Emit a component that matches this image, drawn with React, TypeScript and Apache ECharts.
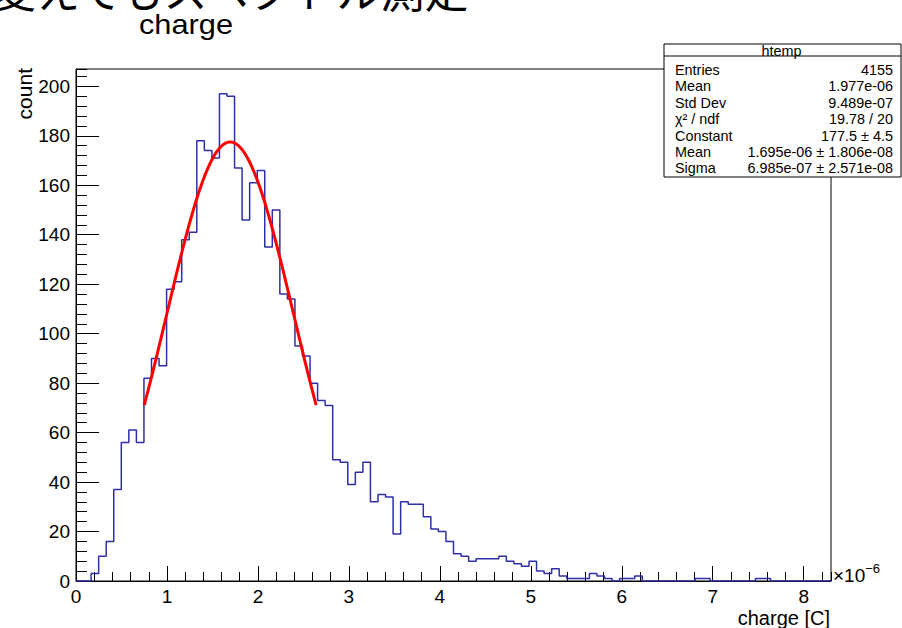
import React, { useEffect, useRef } from 'react';
import * as echarts from 'echarts';

// Histogram "htemp": 100 bins over [0, 8.3] ×1e-6 C
const X_MIN = 0;
const X_MAX = 8.3;
const Y_MAX = 207;
const N_BINS = 100;
const counts = [
  0, 0, 3, 10, 16, 37, 56, 61, 56, 82,
  90, 87, 118, 121, 138, 141, 178, 174, 171, 197,
  196, 167, 146, 161, 166, 135, 150, 116, 114, 95,
  91, 80, 73, 71, 49, 48, 39, 44, 48, 32,
  35, 34, 19, 32, 31, 31, 26, 21, 20, 16,
  11, 10, 8, 9, 9, 9, 10, 8, 7, 6,
  8, 4, 3, 5, 2, 1, 1, 1, 3, 2,
  1, 0, 1, 1, 2, 0, 0, 0, 0, 0,
  0, 0, 1, 1, 0, 0, 0, 0, 0, 0,
  1, 1, 0, 0, 0, 0, 0, 0, 0, 0,
];

// Gaussian fit parameters (from the stats box), x in units of 1e-6 C
const FIT_CONSTANT = 177.5;
const FIT_MEAN = 1.695;
const FIT_SIGMA = 0.6985;
const FIT_RANGE = [0.75, 2.64];
const FIT_POINTS = 100;

const xTickLabels = ['0', '1', '2', '3', '4', '5', '6', '7', '8'];

const statLabels = ['Entries', 'Mean', 'Std Dev', 'χ² / ndf', 'Constant', 'Mean', 'Sigma'];
const statValues = ['4155', '1.977e-06', '9.489e-07', '19.78 / 20', '177.5 ± 4.5', '1.695e-06 ± 1.806e-08', '6.985e-07 ± 2.571e-08'];

const FONT = '"Liberation Sans", Arial, Helvetica, sans-serif';

export default function App() {
  const ref = useRef<HTMLDivElement>(null);

  useEffect(() => {
    if (!ref.current) return;
    const chart = echarts.init(ref.current, null, { renderer: 'svg' });

    const binW = (X_MAX - X_MIN) / N_BINS;
    const histData: number[][] = counts.map((v, i) => [X_MIN + i * binW, v]);
    histData.push([X_MAX, counts[counts.length - 1]]);

    const fitData: number[][] = [];
    for (let k = 0; k <= FIT_POINTS; k++) {
      const x = FIT_RANGE[0] + ((FIT_RANGE[1] - FIT_RANGE[0]) * k) / FIT_POINTS;
      const z = (x - FIT_MEAN) / FIT_SIGMA;
      fitData.push([x, FIT_CONSTANT * Math.exp(-0.5 * z * z)]);
    }

    const boxX = 664, boxY = 44, boxW = 237, boxH = 133, headerH = 12;
    const rowY0 = 70, rowStep = 16.4;
    const statFont = `14.4px ${FONT}`;

    const statTexts: any[] = [];
    statLabels.forEach((l, i) => {
      statTexts.push({
        type: 'text', z: 101, x: 675, y: rowY0 + i * rowStep,
        style: { text: l, font: statFont, fill: '#000', align: 'left', verticalAlign: 'middle' },
      });
      statTexts.push({
        type: 'text', z: 101, x: 893, y: rowY0 + i * rowStep,
        style: { text: statValues[i], font: statFont, fill: '#000', align: 'right', verticalAlign: 'middle' },
      });
    });

    chart.setOption({
      animation: false,
      backgroundColor: '#fff',
      grid: {
        left: 76, right: 71, top: 69, bottom: 47,
        show: true, borderColor: '#000', borderWidth: 1, backgroundColor: 'transparent',
        containLabel: false,
      },
      xAxis: [
        {
          type: 'value', min: X_MIN, max: X_MAX, interval: 1, position: 'bottom',
          axisLine: { show: true, onZero: false, lineStyle: { color: '#000', width: 1 } },
          axisTick: { show: true, inside: true, length: 15, lineStyle: { color: '#000', width: 1 } },
          splitLine: { show: false },
          axisLabel: {
            show: true, margin: 6, color: '#000', fontSize: 19, fontFamily: FONT,
            showMaxLabel: false,
            formatter: (v: number) => {
              const idx = Math.round(v);
              return Math.abs(v - idx) < 1e-6 && idx < xTickLabels.length ? xTickLabels[idx] : '';
            },
          },
        },
        {
          type: 'value', min: X_MIN, max: X_MAX, interval: 0.2, position: 'bottom',
          axisLine: { show: false, onZero: false },
          axisTick: { show: true, inside: true, length: 9, lineStyle: { color: '#000', width: 1 } },
          splitLine: { show: false },
          axisLabel: { show: false },
        },
      ],
      yAxis: [
        {
          type: 'value', min: 0, max: Y_MAX, interval: 20, position: 'left',
          axisLine: { show: true, onZero: false, lineStyle: { color: '#000', width: 1 } },
          axisTick: { show: true, inside: true, length: 23, lineStyle: { color: '#000', width: 1 } },
          splitLine: { show: false },
          axisLabel: {
            show: true, margin: 6, color: '#000', fontSize: 19, fontFamily: FONT,
            showMaxLabel: false,
            formatter: (v: number) => (Math.abs(v % 20) < 1e-6 ? String(Math.round(v)) : ''),
          },
        },
        {
          type: 'value', min: 0, max: Y_MAX, interval: 4, position: 'left',
          axisLine: { show: false, onZero: false },
          axisTick: { show: true, inside: true, length: 11, lineStyle: { color: '#000', width: 1 } },
          splitLine: { show: false },
          axisLabel: { show: false },
        },
      ],
      series: [
        {
          type: 'line', xAxisIndex: 0, yAxisIndex: 0, step: 'end', data: histData,
          symbol: 'none', lineStyle: { color: '#2f2fa8', width: 1.5 }, z: 3,
        },
        {
          type: 'line', xAxisIndex: 0, yAxisIndex: 0, data: fitData, smooth: false,
          symbol: 'none', lineStyle: { color: '#ff0000', width: 3 }, z: 4,
        },
      ],
      graphic: [
        {
          type: 'text', x: -8, y: 11, z: 100,
          style: { text: '変えてもスペクトル測定', font: `44px "Noto Sans CJK JP", sans-serif`, fill: '#000', align: 'left', verticalAlign: 'bottom' },
        },
        {
          type: 'text', x: 186, y: 25, z: 100, scaleX: 1.14,
          style: { text: 'charge', font: `27px ${FONT}`, fill: '#000', align: 'center', verticalAlign: 'middle' },
        },
        {
          type: 'text', x: 24, y: 68, rotation: Math.PI / 2, z: 100,
          style: { text: 'count', font: `21px ${FONT}`, fill: '#000', align: 'right', verticalAlign: 'middle' },
        },
        {
          type: 'text', x: 830, y: 618, z: 100,
          style: { text: 'charge [C]', font: `20px ${FONT}`, fill: '#000', align: 'right', verticalAlign: 'middle' },
        },
        {
          type: 'text', x: 833, y: 573, z: 100,
          style: {
            text: '{a|×10}{b|−6}', align: 'left', verticalAlign: 'middle',
            rich: {
              a: { font: `19px ${FONT}`, fill: '#000', color: '#000', verticalAlign: 'bottom' },
              b: { font: `13px ${FONT}`, fill: '#000', color: '#000', verticalAlign: 'top', padding: [0, 0, 10, 0] },
            },
          },
        },
        {
          type: 'rect', z: 100,
          shape: { x: boxX, y: boxY, width: boxW, height: boxH },
          style: { fill: '#fff', stroke: '#000', lineWidth: 1 },
        },
        {
          type: 'line', z: 101,
          shape: { x1: boxX, y1: boxY + headerH, x2: boxX + boxW, y2: boxY + headerH },
          style: { stroke: '#000', lineWidth: 1 },
        },
        {
          type: 'text', z: 101, x: boxX + boxW / 2 - 1, y: boxY + headerH / 2 + 1,
          style: { text: 'htemp', font: statFont, fill: '#000', align: 'center', verticalAlign: 'middle' },
        },
        ...statTexts,
      ],
    });

    return () => chart.dispose();
  }, []);

  return (
    <div
      ref={ref}
      style={{ position: 'fixed', left: 0, top: 0, width: 902, height: 628, background: '#fff' }}
    />
  );
}
